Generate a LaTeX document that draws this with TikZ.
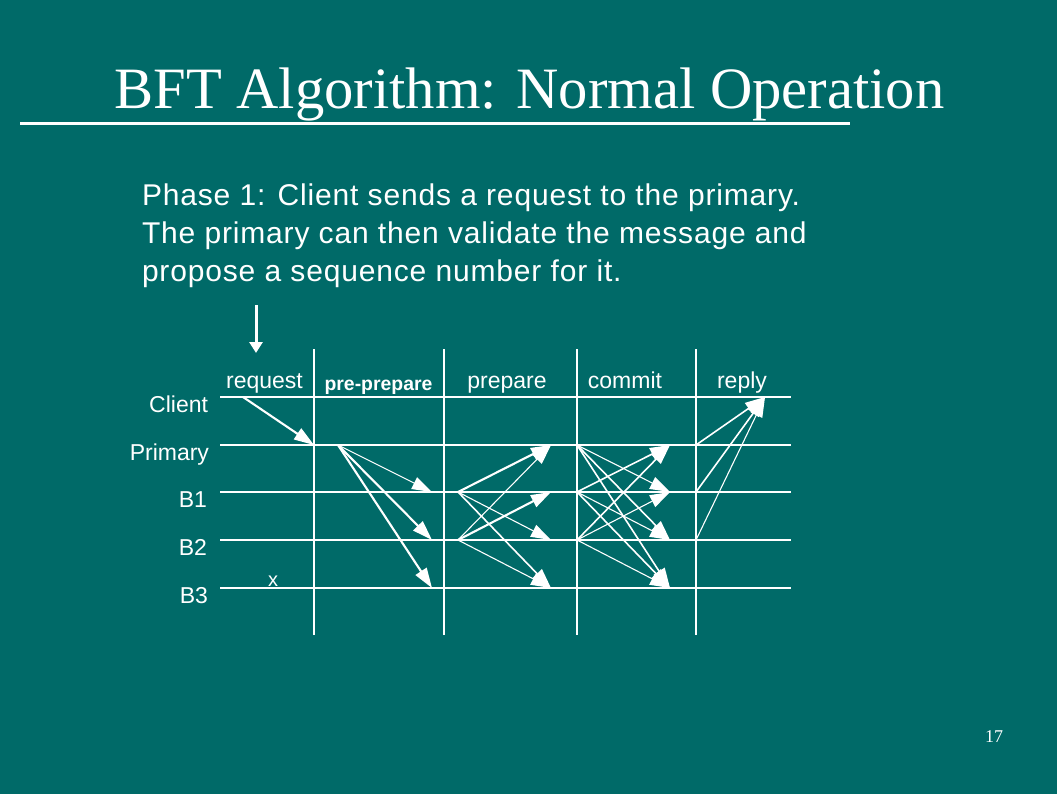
\documentclass[tikz,border=0pt]{standalone}
\usepackage{fontspec}
\usetikzlibrary{arrows.meta}
\newfontfamily\sansf{Liberation Sans}
\newfontfamily\bodyf[LetterSpace=2.8]{Liberation Sans}
\newfontfamily\seriff{Liberation Serif}
\definecolor{bg}{RGB}{0,106,104}
\begin{document}
\begin{tikzpicture}[x=1pt,y=-1pt,
  every node/.style={text=white,inner sep=0pt,outer sep=0pt},
  hline/.style={draw=white,line width=2pt},
  msg/.style={draw=white,line width=1.6pt,-{Triangle[length=20pt,width=13pt]}},
  msgthin/.style={msg,line width=1.1pt},
  msgthick/.style={msg,line width=2.1pt},
  rowlab/.style={anchor=base east,font=\sansf\fontsize{23}{25}\selectfont},
  collab/.style={anchor=base,font=\sansf\fontsize{23}{25}\selectfont},
  body/.style={anchor=base west,font=\bodyf\fontsize{30}{32}\selectfont}]
\fill[bg] (0,0) rectangle (1057,794);
\useasboundingbox (0,0) rectangle (1057,794);
% title
\node[anchor=base,font=\seriff\fontsize{58.6}{60}\selectfont] (title) at (529.5,109) {BFT Algorithm: Normal Operation};
\coordinate (ulL) at (20,124); \coordinate (ulR) at (850,124);
\draw[white,line width=3pt] (ulL) -- (ulR);
% body text
\node[body] (t1) at (142,206) {Phase 1: Client sends a request to the primary.};
\node[body] (t2) at (142,244) {The primary can then validate the message and};
\node[body] (t3) at (142,282) {propose a sequence number for it.};
% down arrow
\coordinate (dtop) at (256,305); \coordinate (dbot) at (256,353);
\draw[white,line width=3pt,-{Triangle[length=11pt,width=13pt]}] (dtop) -- (dbot);
% coordinates
\foreach \r/\y in {C/397,P/445,B1/492,B2/540,B3/588}{
  \coordinate (\r L) at (220,\y);
  \coordinate (\r R) at (791,\y);
  \foreach \c/\x in {a/243,b/314,c/338,d/432,e/458,f/551,g/577,h/670,i/696,j/765}{
    \coordinate (\r\c) at (\x,\y);
  }
}
\foreach \n/\x in {1/314,2/444,3/577,4/696}{
  \coordinate (v\n t) at (\x,349);
  \coordinate (v\n b) at (\x,635);
}
% grid
\foreach \r in {C,P,B1,B2,B3}{\draw[hline] (\r L) -- (\r R);}
\foreach \n in {1,2,3,4}{\draw[hline] (v\n t) -- (v\n b);}
% row labels
\node[rowlab] (lc) at (208,412) {Client};
\node[rowlab] (lp) at (209,460) {Primary};
\node[rowlab] (lb1) at (207,507) {B1};
\node[rowlab] (lb2) at (207,555) {B2};
\node[rowlab] (lb3) at (208,603) {B3};
\node[font=\sansf\fontsize{20}{22}\selectfont] (x3) at (273,581) {x};
% column labels
\node[collab] (creq) at (264.5,388) {request};
\node[anchor=base,font=\sansf\bfseries\fontsize{19.4}{21}\selectfont] (cpp) at (378.5,390) {pre-prepare};
\node[collab] (cprep) at (507,388) {prepare};
\node[collab] (ccom) at (625,388) {commit};
\node[collab] (crep) at (742,388) {reply};
% request
\draw[msgthick] (Ca) -- (Pb);
% pre-prepare
\draw[msgthin] (Pc) -- (B1d);
\draw[msgthick] (Pc) -- (B2d);
\draw[msgthick] (Pc) -- (B3d);
% prepare
\draw[msgthick] (B1e) -- (Pf);
\draw[msgthin] (B1e) -- (B2f);
\draw[msg] (B1e) -- (B3f);
\draw[msgthin] (B2e) -- (Pf);
\draw[msgthick] (B2e) -- (B1f);
\draw[msgthin] (B2e) -- (B3f);
% commit
\draw[msgthin] (Pg) -- (B1h);
\draw[msg] (Pg) -- (B2h);
\draw[msg] (Pg) -- (B3h);
\draw[msg] (B1g) -- (Ph);
\draw[msgthin] (B1g) -- (B2h);
\draw[msg] (B1g) -- (B3h);
\draw[msg] (B2g) -- (Ph);
\draw[msgthin] (B2g) -- (B1h);
\draw[msgthin] (B2g) -- (B3h);
% reply
\draw[msg] (Pi) -- (Cj);
\draw[msg] (B1i) -- (Cj);
\draw[msgthin] (B2i) -- (Cj);
% page number
\node[anchor=base,font=\seriff\fontsize{18}{20}\selectfont] (pg) at (994,742) {17};
\end{tikzpicture}
\end{document}
